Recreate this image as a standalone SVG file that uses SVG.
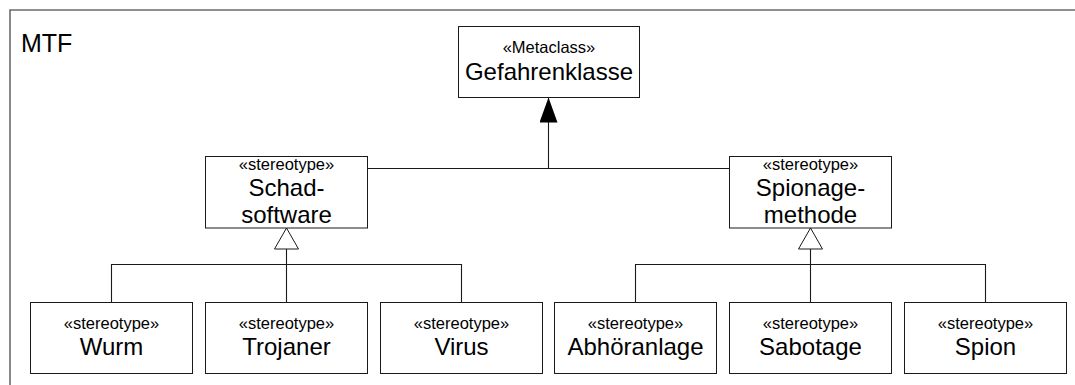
<svg xmlns="http://www.w3.org/2000/svg" width="1075" height="385" viewBox="0 0 1075 385">
  <style>
    .box { fill: #ffffff; stroke: #1a1a1a; stroke-width: 1; }
    .frame { fill: none; stroke: #6b6b6b; stroke-width: 1.6; }
    .conn { fill: none; stroke: #1a1a1a; stroke-width: 1.1; }
    text { font-family: "Liberation Sans", Arial, Helvetica, sans-serif; fill: #000000; text-anchor: middle; }
    .st { font-size: 16.5px; }
    .nm { font-size: 24px; }
    .title { font-size: 25px; text-anchor: start; }
  </style>
  <defs>
    <!-- filled head: extension of a metaclass -->
    <marker id="extHead" markerUnits="userSpaceOnUse" viewBox="0 0 25 18" refX="25" refY="9" markerWidth="25" markerHeight="18" orient="auto">
      <path d="M0,0 L25,9 L0,18 Z" fill="#000000"/>
    </marker>
    <!-- hollow head: generalization -->
    <marker id="genHead" markerUnits="userSpaceOnUse" viewBox="-1 -1 23 26" refX="21" refY="12" markerWidth="23" markerHeight="26" orient="auto">
      <path d="M0,0 L21,12 L0,24 Z" fill="#ffffff" stroke="#1a1a1a" stroke-width="1"/>
    </marker>
  </defs>

  <rect width="1075" height="385" fill="#ffffff"/>

  <!-- package frame -->
  <g id="frame">
    <path class="frame" d="M10,400 V10 H1100"/>
    <text class="title" x="21" y="52">MTF</text>
  </g>

  <!-- connectors -->
  <g id="connectors">
    <path class="conn" d="M367,168.5 H729.5"/>
    <path class="conn" d="M548.5,168.5 V97.5" marker-end="url(#extHead)"/>
    <path class="conn" d="M111.5,302 V264.5 H461.5 V302"/>
    <path class="conn" d="M286.5,302 V228" marker-end="url(#genHead)"/>
    <path class="conn" d="M635.5,302 V264.5 H985.5 V302"/>
    <path class="conn" d="M810.5,302 V228" marker-end="url(#genHead)"/>
  </g>

  <g id="gefahrenklasse">
    <rect class="box" x="458.5" y="26.5" width="181" height="71"/>
    <text class="st" x="549" y="53">«Metaclass»</text>
    <text class="nm" x="549" y="80">Gefahrenklasse</text>
  </g>

  <g id="schadsoftware">
    <rect class="box" x="205.5" y="156.5" width="162" height="71.5"/>
    <text class="st" x="286.5" y="170">«stereotype»</text>
    <text class="nm" x="286.5" y="196">Schad-</text>
    <text class="nm" x="286.5" y="223">software</text>
  </g>

  <g id="spionagemethode">
    <rect class="box" x="729.5" y="156.5" width="162" height="71.5"/>
    <text class="st" x="810.5" y="170">«stereotype»</text>
    <text class="nm" x="810.5" y="196">Spionage-</text>
    <text class="nm" x="810.5" y="223">methode</text>
  </g>

  <g id="wurm">
    <rect class="box" x="30.5" y="302.5" width="162" height="71"/>
    <text class="st" x="111.5" y="329">«stereotype»</text>
    <text class="nm" x="111.5" y="355">Wurm</text>
  </g>

  <g id="trojaner">
    <rect class="box" x="205.5" y="302.5" width="162" height="71"/>
    <text class="st" x="286.5" y="329">«stereotype»</text>
    <text class="nm" x="286.5" y="355">Trojaner</text>
  </g>

  <g id="virus">
    <rect class="box" x="380.5" y="302.5" width="162" height="71"/>
    <text class="st" x="461.5" y="329">«stereotype»</text>
    <text class="nm" x="461.5" y="355">Virus</text>
  </g>

  <g id="abhoeranlage">
    <rect class="box" x="554.5" y="302.5" width="162" height="71"/>
    <text class="st" x="635.5" y="329">«stereotype»</text>
    <text class="nm" x="635.5" y="355">Abhöranlage</text>
  </g>

  <g id="sabotage">
    <rect class="box" x="729.5" y="302.5" width="162" height="71"/>
    <text class="st" x="810.5" y="329">«stereotype»</text>
    <text class="nm" x="810.5" y="355">Sabotage</text>
  </g>

  <g id="spion">
    <rect class="box" x="904.5" y="302.5" width="162" height="71"/>
    <text class="st" x="985.5" y="329">«stereotype»</text>
    <text class="nm" x="985.5" y="355">Spion</text>
  </g>
</svg>
